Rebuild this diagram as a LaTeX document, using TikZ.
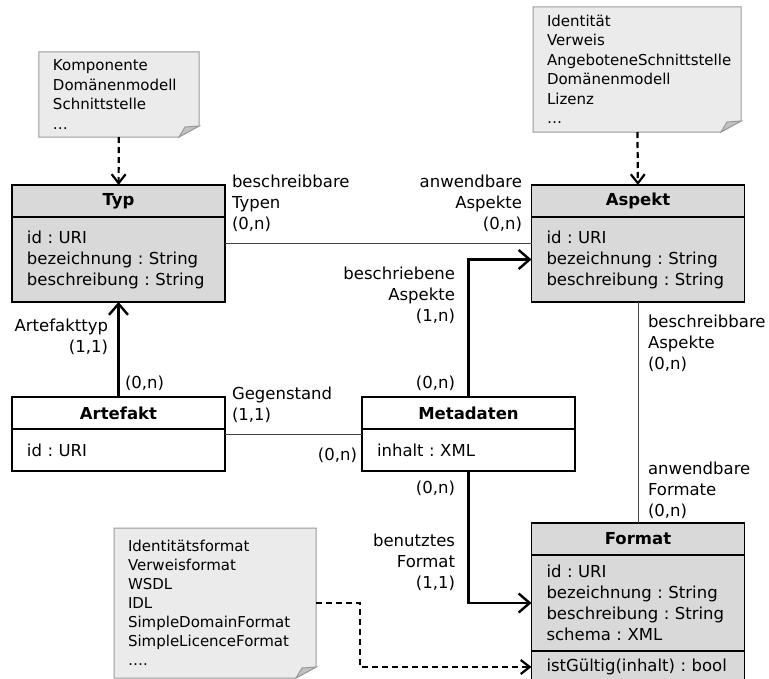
\documentclass[tikz,border=0pt]{standalone}
\usepackage{fontspec}
\setmainfont{DejaVu Sans}
\usetikzlibrary{positioning,arrows.meta,backgrounds}
\frenchspacing

\definecolor{umlgray}{HTML}{D9D9D9}
\definecolor{notegray}{HTML}{EBEBEB}
\definecolor{noteedge}{HTML}{9A9A9A}
\definecolor{foldgray}{HTML}{C2C2C2}
\definecolor{linegray}{HTML}{454545}

\begin{document}
\begin{tikzpicture}[x=1bp,y=-1bp]
  \tikzset{
    every node/.style={font=\fontsize{16.5bp}{21bp}\selectfont, inner sep=0pt, outer sep=0pt},
    head/.style={draw, line width=1.2bp, minimum width=213bp, minimum height=32bp,
      font=\fontsize{16.5bp}{21bp}\selectfont\bfseries},
    body/.style={draw, line width=1.2bp, align=left, text width=183bp, inner xsep=15bp},
    note/.style={align=left, font=\fontsize{15bp}{19.5bp}\selectfont},
    assoc/.style={draw=linegray, line width=1bp},
    navi/.style={line width=2.4bp, -{Straight Barb[length=11bp,width=19bp]}},
    depend/.style={line width=2.2bp, dash pattern=on 6bp off 4bp, -{Straight Barb[length=9bp,width=14bp]}}
  }
  \useasboundingbox (0,0) rectangle (769,679);

  % classes
  \node[head, fill=umlgray] (typhead) at (118.5,201) {Typ};
  \node[body, fill=umlgray, minimum height=85bp, below=0pt of typhead] (typbody)
    {id : URI\\bezeichnung : String\\beschreibung : String};

  \node[head, fill=umlgray] (asphead) at (638,201) {Aspekt};
  \node[body, fill=umlgray, minimum height=85bp, below=0pt of asphead] (aspbody)
    {id : URI\\bezeichnung : String\\beschreibung : String};

  \node[head] (arthead) at (118.5,413) {Artefakt};
  \node[body, minimum height=42bp, below=0pt of arthead] (artbody) {id : URI};

  \node[head] (methead) at (468.5,413) {Metadaten};
  \node[body, minimum height=42bp, below=0pt of methead] (metbody) {inhalt : XML};

  \node[head, fill=umlgray] (fmthead) at (638,539) {Format};
  \node[body, fill=umlgray, minimum height=96bp, below=0pt of fmthead] (fmtbody)
    {id : URI\\bezeichnung : String\\beschreibung : String\\schema : XML};
  \node[body, fill=umlgray, minimum height=32bp, below=0pt of fmtbody] (fmtops)
    {\mbox{istGültig(inhalt) : bool}};

  % notes
  \node[note, minimum width=160bp, minimum height=85bp, text width=132bp] (typnote) at (119,94.5)
    {Komponente\\Domänenmodell\\Schnittstelle\\\dots};
  \node[note, minimum width=208bp, minimum height=125bp, text width=180bp] (aspnote) at (637,69.5)
    {Identität\\Verweis\\AngeboteneSchnittstelle\\Domänenmodell\\Lizenz\\\dots};
  \node[note, minimum width=202bp, minimum height=150bp, text width=174bp,
    font=\fontsize{15bp}{19bp}\selectfont] (fmtnote) at (215,603)
    {Identitätsformat\\Verweisformat\\WSDL\\IDL\\SimpleDomainFormat\\SimpleLicenceFormat\\\dots.};

  \begin{scope}[on background layer]
    \foreach \n in {typnote,aspnote,fmtnote} {
      \draw[noteedge, fill=notegray, line width=1bp] (\n.north west) -- (\n.north east)
        -- ([yshift=11bp]\n.south east) -- ([xshift=-20bp]\n.south east) -- (\n.south west) -- cycle;
      \draw[noteedge, fill=foldgray, line width=1bp] ([xshift=-20bp]\n.south east)
        -- ([xshift=-14bp,yshift=10bp]\n.south east) -- ([yshift=11bp]\n.south east) -- cycle;
    }
  \end{scope}

  % labels
  \node[align=left, anchor=west] (lbltyp) at (232,203.5) {beschreibbare\\Typen\\(0,n)};
  \node[align=right, anchor=east] (lblasp) at (522,203.5) {anwendbare\\Aspekte\\(0,n)};
  \node[align=right, anchor=east] (lblbesch) at (455,295) {beschriebene\\Aspekte\\(1,n)};
  \node[align=left, anchor=west] (lblaspf) at (648,343) {beschreibbare\\Aspekte\\(0,n)};
  \node[align=right, anchor=east] (lblarttyp) at (108,337) {Artefakttyp\\(1,1)};
  \node[anchor=west] (lblart) at (125,383) {(0,n)};
  \node[align=left, anchor=west] (lblgeg) at (232,404.5) {Gegenstand\\(1,1)};
  \node[anchor=east] (lblmetl) at (357,455) {(0,n)};
  \node[anchor=east] (lblmett) at (455,383) {(0,n)};
  \node[anchor=east] (lblmetb) at (455,488) {(0,n)};
  \node[align=right, anchor=east] (lblben) at (455,562) {benutztes\\Format\\(1,1)};
  \node[align=left, anchor=west] (lblfmt) at (648,490) {anwendbare\\Formate\\(0,n)};

  % connectors
  \draw[depend] (typnote) -- (typhead);
  \draw[depend] (aspnote) -- (asphead);
  \draw[depend] (fmtnote.east) -- ++(44,0) |- (fmtops.west);
  \draw[assoc] ([yshift=16.5bp]typbody.east) -- ([yshift=16.5bp]aspbody.west);
  \draw[assoc] ([yshift=16bp]artbody.east) -- ([yshift=16bp]metbody.west);
  \draw[assoc] (aspbody) -- (fmthead);
  \draw[navi] (arthead) -- (typbody);
  \draw[navi] (methead.north) |- (aspbody.west);
  \draw[navi] (metbody.south) |- (fmtbody.west);
\end{tikzpicture}
\end{document}
